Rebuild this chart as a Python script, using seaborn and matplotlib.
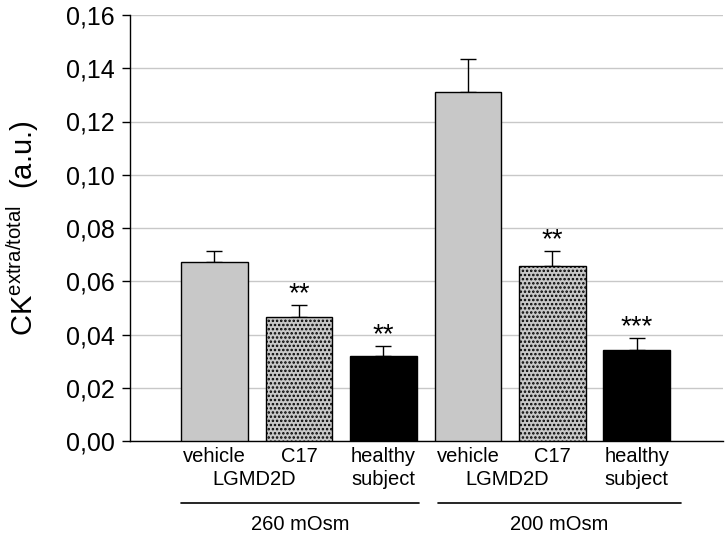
import matplotlib
matplotlib.use("Agg")
import matplotlib.pyplot as plt
import seaborn as sns
import pandas as pd
import numpy as np

# ---- data ----
groups = ["260 mOsm", "260 mOsm", "260 mOsm", "200 mOsm", "200 mOsm", "200 mOsm"]
conditions = ["vehicle", "C17", "healthy\nsubject", "vehicle", "C17", "healthy\nsubject"]
values = [0.0672, 0.0466, 0.0320, 0.1311, 0.0658, 0.0340]
errors = [0.0042, 0.0045, 0.0038, 0.0125, 0.0056, 0.0048]
stars = ["", "**", "**", "", "**", "***"]
yticks = [0.00, 0.02, 0.04, 0.06, 0.08, 0.10, 0.12, 0.14, 0.16]
group_names = ["260 mOsm", "200 mOsm"]

sns.set_style("white")
plt.rcParams['font.family'] = ['Liberation Sans', 'DejaVu Sans']
plt.rcParams['mathtext.fontset'] = 'custom'
plt.rcParams['mathtext.rm'] = 'Liberation Sans'
plt.rcParams['mathtext.it'] = 'Liberation Sans:italic'
plt.rcParams['hatch.color'] = '#444444'
plt.rcParams['hatch.linewidth'] = 1.2
plt.rcParams['text.color'] = 'black'
plt.rcParams['axes.labelcolor'] = 'black'
plt.rcParams['ytick.color'] = 'black'

keys = [f"{g}|{c}" for g, c in zip(groups, conditions)]
df = pd.DataFrame({"key": keys, "value": values})

fig = plt.figure(figsize=(7.28, 5.34), dpi=100)
ax = fig.add_axes([130/728, 1-441/534, (723-130)/728, (441-15)/534])

colors = ["#c8c8c8", "#c8c8c8", "#000000", "#c8c8c8", "#c8c8c8", "#000000"]
sns.barplot(data=df, x="key", y="value", order=keys, palette=colors, hue="key",
            legend=False, width=0.79, edgecolor="black", linewidth=1.0,
            errorbar=None, ax=ax, zorder=3)

for i, p in enumerate(ax.patches):
    if "C17" in conditions[i]:
        p.set_hatch("....")

xs = np.arange(len(values))
ax.errorbar(xs, values, yerr=[np.zeros(len(values)), errors], fmt="none",
            ecolor="black", elinewidth=1.0, capsize=6, capthick=1.0, zorder=2)

for x, v, e, s in zip(xs, values, errors, stars):
    if s:
        ax.text(x, v + e - 0.0008, s, ha="center", va="bottom", fontsize=20,
                color="black")

ax.set_ylim(0, 0.16)
ax.set_xlim(-1.0, 6.02)
ax.set_yticks(yticks)
ax.set_yticklabels([f"{t:.2f}".replace(".", ",") for t in yticks], fontsize=18)
ax.yaxis.grid(True, color="#c8c8c8", linewidth=1.0, zorder=0)
ax.set_axisbelow(True)
ax.set_xticks([])
ax.set_xlabel("")
ax.tick_params(axis="y", direction="out", length=6, width=1, color="black", pad=5, left=True)
for s in ["top", "right"]:
    ax.spines[s].set_visible(False)
for s in ["left", "bottom"]:
    ax.spines[s].set_color("black")
    ax.spines[s].set_linewidth(1.0)

ax.set_ylabel(r"CK$^{\mathrm{extra/total}}$  (a.u.)", fontsize=21, labelpad=18)

trans = ax.get_xaxis_transform()
line_y = [-0.0493, -0.1033]
for x, c in zip(xs, conditions):
    for j, part in enumerate(c.split("\n")):
        ax.text(x, line_y[j], part, ha="center", va="baseline", fontsize=14.5,
                transform=trans)
for k in range(2):
    ax.text(3*k + 0.5 - 0.03, line_y[1], "LGMD2D", ha="center", va="baseline",
            fontsize=14.5, transform=trans)
# group lines and labels
spans = [(-0.395, 2.42), (2.65, 5.52)]
for (a, b), name in zip(spans, group_names):
    ax.plot([a, b], [-0.1455, -0.1455], color="black", linewidth=1.2, transform=trans,
            clip_on=False)
    ax.text((a + b) / 2, -0.209, name, ha="center", va="baseline", fontsize=14.5,
            transform=trans)

fig.savefig("out.png", dpi=100)
